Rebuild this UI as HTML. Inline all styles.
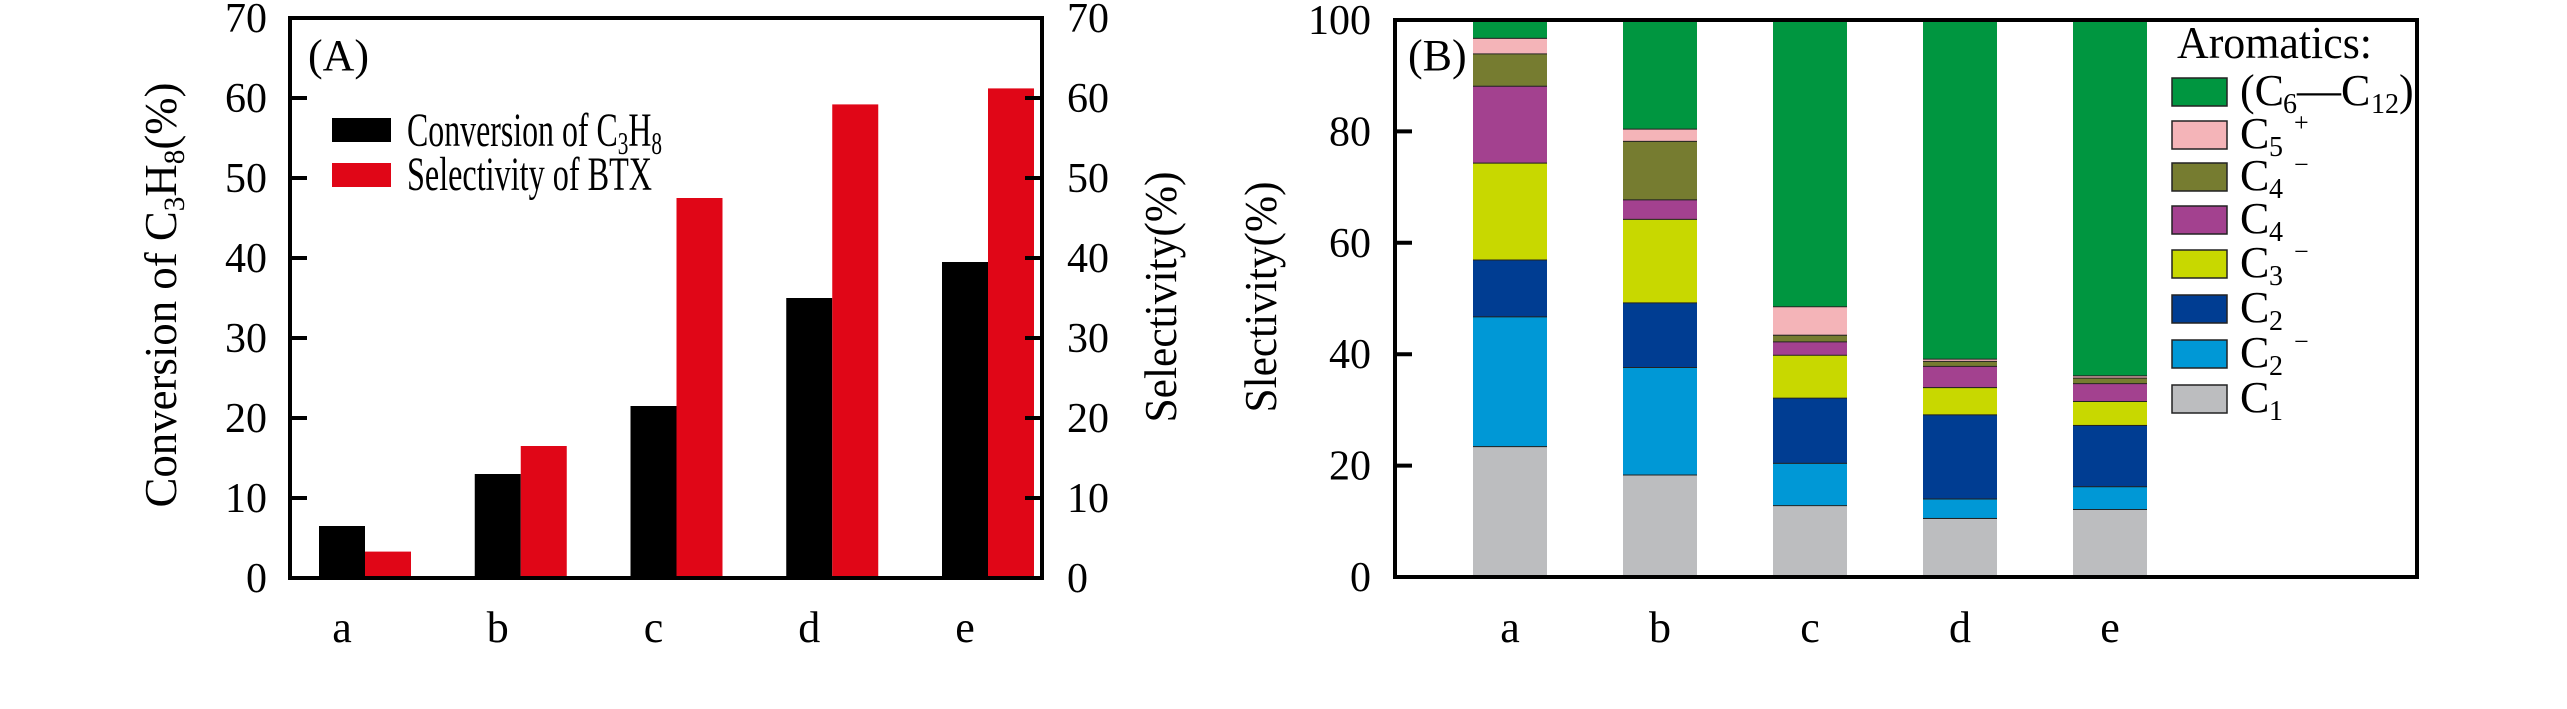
<!DOCTYPE html>
<html><head><meta charset="utf-8"><style>
html,body{margin:0;padding:0;background:#fff}
svg{display:block}
text{font-family:"Liberation Serif","Times New Roman",serif;fill:#000}
</style></head><body>
<svg id="chart" width="2567" height="709" viewBox="0 0 2567 709" xmlns="http://www.w3.org/2000/svg">
<g id="panelA"></g>
<g id="panelB"></g>
</svg>
<script>
// Panel A data
const catsA = ["a","b","c","d","e"];
const conversion = [6.5, 13.0, 21.5, 35.0, 39.5];
const selectivityBTX = [3.3, 16.5, 47.5, 59.2, 61.2];
const ticksA = [0,10,20,30,40,50,60,70];
// Panel B data
const catsB = ["a","b","c","d","e"];
const segC1 = [23.5, 18.4, 12.9, 10.6, 12.2];
const segC2m = [23.3, 19.3, 7.6, 3.5, 4.1];
const segC2 = [10.2, 11.6, 11.7, 15.1, 11.0];
const segC3m = [17.4, 15.0, 7.7, 4.9, 4.3];
const segC4 = [13.8, 3.5, 2.4, 3.8, 3.2];
const segC4m = [5.8, 10.5, 1.2, 0.9, 1.0];
const segC5p = [2.8, 2.2, 5.1, 0.4, 0.4];
const segArom = [3.2, 19.5, 51.4, 60.8, 63.8];
const ticksB = [0,20,40,60,80,100];

const NS="http://www.w3.org/2000/svg";
function mk(parent,tag,attrs,txt){const e=document.createElementNS(NS,tag);for(const k in attrs)e.setAttribute(k,attrs[k]);if(txt!==undefined)e.textContent=txt;parent.appendChild(e);return e;}

// ---------- Panel A ----------
const A=document.getElementById('panelA');
const aL=290,aR=1042,aT=18,aB=578;
const yA=v=>aB-(v/70)*(aB-aT);
const xA=i=>342+i*155.75;
const bw=46;
for(let i=0;i<catsA.length;i++){
  let r=mk(A,'rect',{x:xA(i)-bw/2,y:yA(conversion[i]),width:bw,height:aB-yA(conversion[i]),fill:'#000'});
  
  
  let s=mk(A,'rect',{x:xA(i)+bw/2,y:yA(selectivityBTX[i]),width:bw,height:aB-yA(selectivityBTX[i]),fill:'#e00617'});
  
  
  let t=mk(A,'text',{x:xA(i),y:642,'font-size':44,'text-anchor':'middle'},catsA[i]);
  
  
}
let frA=mk(A,'rect',{x:aL,y:aT,width:aR-aL,height:aB-aT,fill:'none',stroke:'#000','stroke-width':4});


ticksA.forEach(v=>{
  const y=yA(v);
  if(v>0&&v<70){mk(A,'line',{x1:aL,x2:aL+17,y1:y,y2:y,stroke:'#000','stroke-width':4});mk(A,'line',{x1:aR,x2:aR-17,y1:y,y2:y,stroke:'#000','stroke-width':4});}
  let l=mk(A,'text',{x:267,y:y+14,'font-size':42,'text-anchor':'end'},String(v));
  
  
  let r=mk(A,'text',{x:1067,y:y+14,'font-size':42,'text-anchor':'start'},String(v));
  
  
});
</script>
<script>
// static labels panel A
(function(){
const A=document.getElementById('panelA');
A.insertAdjacentHTML('beforeend',`
<text x="308" y="70" font-size="44">(A)</text>
<g>
<rect x="332" y="118" width="59" height="24" fill="#000"/>
<text x="407" y="146" font-size="48" textLength="255" lengthAdjust="spacingAndGlyphs">Conversion of C<tspan font-size="32" dy="8">3</tspan><tspan dy="-8">H</tspan><tspan font-size="32" dy="8">8</tspan></text>
<rect x="332" y="163" width="59" height="24" fill="#e00617"/>
<text x="407" y="190" font-size="48" textLength="245" lengthAdjust="spacingAndGlyphs">Selectivity of BTX</text>
</g>
<text transform="translate(176,295) rotate(-90)" font-size="46" text-anchor="middle" textLength="425" lengthAdjust="spacingAndGlyphs">Conversion of C<tspan font-size="30" dy="8">3</tspan><tspan dy="-8">H</tspan><tspan font-size="30" dy="8">8</tspan><tspan dy="-8">(%)</tspan></text>
<text transform="translate(1176,297) rotate(-90)" font-size="46" text-anchor="middle" textLength="251" lengthAdjust="spacingAndGlyphs">Selectivity(%)</text>
`);
})();
</script>
<script>
// ---------- Panel B ----------
(function(){
const B=document.getElementById('panelB');
const bL=1395,bR=2417,bT=20,bB=577;
const yB=v=>bB-(v/100)*(bB-bT);
const xB=i=>1510+i*150;
const w=74;
const series=[segC1,segC2m,segC2,segC3m,segC4,segC4m,segC5p,segArom];
const names=["c1","c2-minus","c2","c3-minus","c4","c4-minus","c5-plus","aromatics"];
const colors=["#bcbdbf","#0098d6","#003d92","#c8d800","#a3418f","#767c30","#f4b4b8","#009640"];
for(let i=0;i<catsB.length;i++){
  let cum=0;
  for(let s=0;s<series.length;s++){
    const v=series[s][i];
    const y0=yB(cum),y1=yB(cum+v);
    let r=mk(B,'rect',{x:xB(i)-w/2,y:y1,width:w,height:y0-y1,fill:colors[s]});
    
    
    cum+=v;
    if(s<series.length-1){mk(B,'line',{x1:xB(i)-w/2,x2:xB(i)+w/2,y1:yB(cum),y2:yB(cum),stroke:'#222','stroke-width':2});}
  }
  let t=mk(B,'text',{x:xB(i),y:642,'font-size':44,'text-anchor':'middle'},catsB[i]);
  
  
}
let fr=mk(B,'rect',{x:bL,y:bT,width:bR-bL,height:bB-bT,fill:'none',stroke:'#000','stroke-width':4});


ticksB.forEach(v=>{
  const y=yB(v);
  if(v>0&&v<100)mk(B,'line',{x1:bL,x2:bL+17,y1:y,y2:y,stroke:'#000','stroke-width':4});
  let l=mk(B,'text',{x:1371,y:y+14,'font-size':42,'text-anchor':'end'},String(v));
  
  
});
// legend
const legY=[92,135,177,220,264,309,354,399];
const legOrder=[7,6,5,4,3,2,1,0];
B.insertAdjacentHTML('beforeend',`<text x="2177" y="58" font-size="46" textLength="195" lengthAdjust="spacingAndGlyphs">Aromatics:</text>`);
const subs=["","5","4","4","3","2","2","1"];
const sups=["","+","−","","−","","−",""];
legOrder.forEach((s,k)=>{
  const cy=legY[k], by=cy+13;
  let txt;
  if(k===0){
    txt=`<text x="2240" y="${by}" font-size="44">(C</text><text x="2283" y="${by+8}" font-size="28">6</text><text x="2297" y="${by}" font-size="44">—C</text><text x="2371" y="${by+8}" font-size="28">12</text><text x="2399" y="${by}" font-size="44">)</text>`;
  } else {
    txt=`<text x="2240" y="${by}" font-size="44">C</text><text x="2269" y="${by+8}" font-size="28">${subs[k]}</text>`+(sups[k]?`<text x="2294" y="${by-17}" font-size="26">${sups[k]}</text>`:'');
  }
  B.insertAdjacentHTML('beforeend',`<g><rect x="2172" y="${cy-14}" width="55" height="28" fill="${colors[s]}" stroke="#222" stroke-width="1.5"/>${txt}</g>`);
});
B.insertAdjacentHTML('beforeend',`<text x="1408" y="70" font-size="44">(B)</text>
<text transform="translate(1276,297) rotate(-90)" font-size="46" text-anchor="middle" textLength="231" lengthAdjust="spacingAndGlyphs">Slectivity(%)</text>`);
})();
</script>
</body></html>
